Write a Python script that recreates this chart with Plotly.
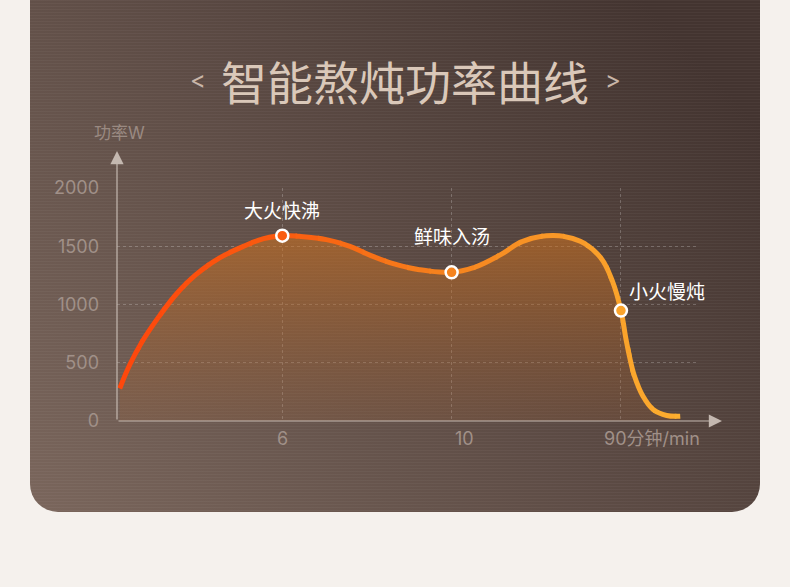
import base64
import numpy as np
import plotly.graph_objects as go

# x is the tick slot on a non-linear time axis: 1 -> 6, 2 -> 10, 3 -> 90 min
time_pos = [0.04, 0.10, 0.18, 0.28, 0.38, 0.49, 0.63, 0.77, 0.89, 1.00,
            1.10, 1.26, 1.40, 1.52, 1.66, 1.81, 2.00, 2.13, 2.29, 2.42,
            2.60, 2.76, 2.88, 2.95, 3.00, 3.03, 3.05, 3.08, 3.13, 3.19,
            3.27, 3.35]
power_w = [279, 485, 699, 913, 1099, 1256, 1400, 1499, 1565, 1591,
           1585, 1557, 1499, 1422, 1348, 1299, 1276, 1316, 1428, 1542,
           1593, 1542, 1402, 1199, 948, 700, 556, 384, 213, 99,
           47, 41]

time_tick_pos = [1, 2, 3]
time_tick_text = ["6", "10", "90分钟/min"]
power_ticks = [0, 500, 1000, 1500, 2000]
power_tick_text = ["0", "500", "1000", "1500", "2000"]

stage_pos = [1, 2, 3]
stage_power = [1591, 1276, 948]
stage_names = ["大火快沸", "鲜味入汤", "小火慢炖"]

W, H = 790, 587
ML, MR, MT, MB = 117, 93, 188, 166
PW, PH = W - ML - MR, H - MT - MB
X0, X1 = 0.024, 3.449
FONT = "Inter, Noto Sans CJK SC"
CJK = "Noto Sans CJK SC"

# brown panel with rounded corners and faint scan lines
svg = f"""<svg xmlns="http://www.w3.org/2000/svg" width="{W}" height="{H}" viewBox="0 0 {W} {H}">
<defs>
<linearGradient id="g" x1="0" y1="1" x2="1" y2="0.3">
<stop offset="0" stop-color="#7a665c"/>
<stop offset="1" stop-color="#433430"/>
</linearGradient>
<pattern id="s" width="4" height="3" patternUnits="userSpaceOnUse">
<rect width="4" height="1" fill="#ffffff" fill-opacity="0.035"/>
</pattern>
</defs>
<rect x="30" y="-40" width="730" height="552" rx="28" fill="url(#g)"/>
<rect x="30" y="-40" width="730" height="552" rx="28" fill="url(#s)"/>
</svg>"""
bg_uri = "data:image/svg+xml;base64," + base64.b64encode(svg.encode()).decode()

# colour ramp of the curve along time
ramp_x = [0.0, 1.0, 2.0, 2.6, 3.4]
ramp_rgb = np.array([[255, 70, 12], [250, 92, 16], [246, 132, 30],
                     [249, 152, 40], [253, 176, 48]])


def ramp(xv):
    c = [int(np.interp(xv, ramp_x, ramp_rgb[:, k])) for k in range(3)]
    return f"rgb({c[0]},{c[1]},{c[2]})"


SMOOTH = 1.1

fig = go.Figure()

fig.add_trace(go.Scatter(
    x=time_pos, y=power_w, mode="lines", fill="tozeroy",
    line=dict(width=0, shape="spline", smoothing=SMOOTH, simplify=False),
    fillgradient=dict(type="vertical", start=0, stop=1600,
                      colorscale=[[0, "rgba(165,95,45,0.18)"],
                                  [1, "rgba(212,116,30,0.55)"]]),
    hoverinfo="skip", showlegend=False,
))

# the same curve drawn in narrow vertical bands, each band its own colour
NB = 26
band_axes = {}
for k in range(NB):
    d0 = k / NB
    d1 = min(1.0, (k + 1) / NB + 0.003)
    name = f"xaxis{k + 2}"
    band_axes[name] = dict(domain=[d0, d1], range=[X0 + d0 * (X1 - X0), X0 + d1 * (X1 - X0)],
                           visible=False, showgrid=False, zeroline=False,
                           anchor="y2", fixedrange=True)
    mid = X0 + (d0 + d1) / 2 * (X1 - X0)
    fig.add_trace(go.Scatter(
        x=time_pos, y=power_w, mode="lines", xaxis=f"x{k + 2}", yaxis="y2",
        line=dict(width=5, color=ramp(mid), shape="spline", smoothing=SMOOTH, simplify=False),
        hoverinfo="skip", showlegend=False,
    ))

top_ax = NB + 2
band_axes[f"xaxis{top_ax}"] = dict(domain=[0, 1], range=[X0, X1], visible=False,
                                   showgrid=False, zeroline=False, anchor="y2",
                                   fixedrange=True)
fig.add_trace(go.Scatter(
    x=stage_pos, y=stage_power, mode="markers", xaxis=f"x{top_ax}", yaxis="y2",
    marker=dict(size=12, color=[ramp(v) for v in stage_pos],
                line=dict(color="white", width=2.5)),
    showlegend=False,
))

ann = []
shifts = [(0, 26, "center"), (0, 37, "center"), (6, 20, "left")]
for px, pw, name, (dx, dy, anc) in zip(stage_pos, stage_power, stage_names, shifts):
    ann.append(dict(x=px, y=pw, xref="x", yref="y", text=name, showarrow=False,
                    xanchor=anc, yanchor="middle", xshift=dx, yshift=dy,
                    font=dict(family=CJK, size=19, color="white")))

tick_shift = [(0, "center"), (13, "center"), (-19, "left")]
for tp, tt, (dx, anc) in zip(time_tick_pos, time_tick_text, tick_shift):
    ann.append(dict(x=tp, y=0, xref="x", yref="y", text=tt, showarrow=False,
                    xanchor=anc, yanchor="middle", xshift=dx, yshift=-17,
                    font=dict(family=FONT, size=18, color="#a09088")))

# axis lines with arrow heads
axis_col = "#c4b8b0"
ann.append(dict(x=(722 - ML) / PW, y=0, xref="paper", yref="paper", text="",
                showarrow=True, ax=-(722 - ML), ay=0, arrowhead=2, arrowsize=2.2,
                arrowwidth=1.2, arrowcolor=axis_col))
ann.append(dict(x=0, y=(H - MB - 151) / PH, xref="paper", yref="paper", text="",
                showarrow=True, ax=0, ay=(H - MB - 151), arrowhead=2, arrowsize=2.2,
                arrowwidth=1.2, arrowcolor=axis_col))

ann.append(dict(x=(119 - ML) / PW, y=(H - MB - 133) / PH, xref="paper", yref="paper",
                text="功率W", showarrow=False, xanchor="center", yanchor="middle",
                font=dict(family=FONT, size=17, color="#9a8a82")))

# title
title_y = (H - MB - 80) / PH
ann.append(dict(x=(405 - ML) / PW, y=title_y, xref="paper", yref="paper",
                text="智能熬炖功率曲线", showarrow=False, xanchor="center", yanchor="middle",
                font=dict(family=CJK, size=46, color="#dac8b9")))
ann.append(dict(x=(198 - ML) / PW, y=title_y, xref="paper", yref="paper",
                text="<", showarrow=False, xanchor="center", yanchor="middle",
                font=dict(family=FONT, size=24, color="#c9b6a8")))
ann.append(dict(x=(613 - ML) / PW, y=title_y, xref="paper", yref="paper",
                text=">", showarrow=False, xanchor="center", yanchor="middle",
                font=dict(family=FONT, size=24, color="#c9b6a8")))

grid_col = "rgba(255,255,255,0.22)"
fig.update_layout(
    width=W, height=H,
    margin=dict(l=ML, r=MR, t=MT, b=MB, pad=0),
    paper_bgcolor="#f5f1ed",
    plot_bgcolor="rgba(0,0,0,0)",
    images=[dict(source=bg_uri, xref="paper", yref="paper",
                 x=-ML / PW, y=(H - MB) / PH, sizex=W / PW, sizey=H / PH,
                 sizing="stretch", xanchor="left", yanchor="top", layer="below")],
    annotations=ann,
    xaxis=dict(range=[X0, X1], tickvals=time_tick_pos, showticklabels=False,
               showgrid=True, gridcolor=grid_col, griddash="3px,3px", gridwidth=1,
               zeroline=False, showline=False, fixedrange=True),
    yaxis=dict(range=[0, 2000], tickvals=power_ticks, ticktext=power_tick_text,
               showgrid=True, gridcolor=grid_col, griddash="3px,3px", gridwidth=1,
               zeroline=False, showline=False, ticks="", ticklabelstandoff=17,
               tickfont=dict(family=FONT, size=18, color="#a09088"), fixedrange=True),
    yaxis2=dict(range=[0, 2000], domain=[0, 1], visible=False, showgrid=False,
                zeroline=False, anchor=f"x{top_ax}", fixedrange=True),
    showlegend=False,
    **band_axes,
)

# drop the default page margin so the figure sits at the window origin
fig.write_html("out.html", config={"displayModeBar": False},
               post_script="document.body.style.margin='0';"
                           "document.body.style.background='#f5f1ed';")
